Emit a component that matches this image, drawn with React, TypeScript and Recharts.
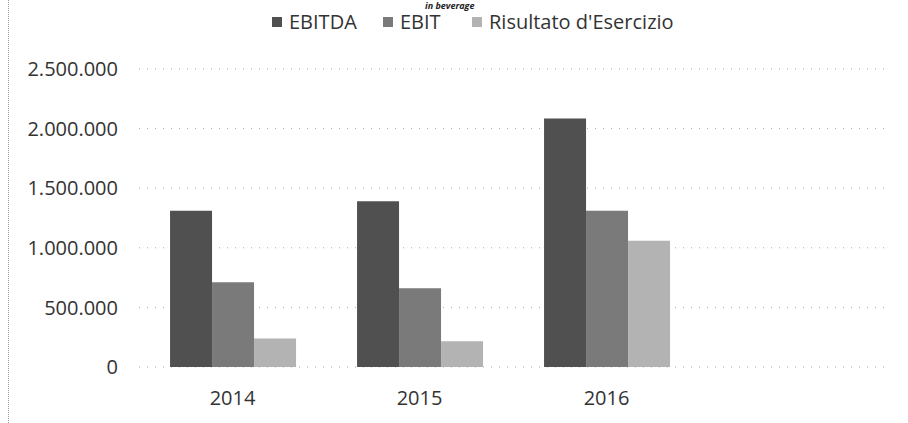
import { BarChart, Bar, XAxis, YAxis, CartesianGrid } from "recharts";

// anni (il quarto slot e' vuoto nel grafico originale)
const years = ["2014", "2015", "2016", ""];
const ebitda = [1310000, 1390000, 2085000, null];
const ebit = [710000, 660000, 1310000, null];
const risultato = [240000, 215000, 1060000, null];
const yTicks = [0, 500000, 1000000, 1500000, 2000000, 2500000];

const series = [
  { key: "ebitda", name: "EBITDA", color: "#505050", left: 272 },
  { key: "ebit", name: "EBIT", color: "#7a7a7a", left: 383 },
  { key: "risultato", name: "Risultato d'Esercizio", color: "#b3b3b3", left: 472 },
];

const data = years.map((year, i) => ({
  year,
  ebitda: ebitda[i],
  ebit: ebit[i],
  risultato: risultato[i],
}));

const fmt = (v: number) => String(v).replace(/\B(?=(\d{3})+(?!\d))/g, ".");

const FONT = "'Open Sans', 'Liberation Sans', sans-serif";

export default function App() {
  return (
    <div style={{ position: "fixed", left: 0, top: 0, width: 908, height: 423, background: "#fff", overflow: "hidden" }}>
      <div style={{ position: "absolute", left: 8, top: 0, height: 423, borderLeft: "1px dotted #999" }} />
      <div
        style={{
          position: "absolute",
          left: 425,
          top: 1,
          lineHeight: "10px",
          fontFamily: FONT,
          fontStyle: "italic",
          fontWeight: 700,
          fontSize: 9,
          color: "#222",
          whiteSpace: "nowrap",
        }}
      >
        in beverage
      </div>
      {/* legenda */}
      {series.map((s) => (
        <div
          key={s.key}
          style={{
            position: "absolute",
            left: s.left,
            top: 12,
            height: 20,
            lineHeight: "20px",
            display: "flex",
            alignItems: "center",
            gap: 7,
            fontFamily: FONT,
            fontSize: 20,
            color: "#333",
            whiteSpace: "nowrap",
          }}
        >
          <span style={{ width: 10, height: 10, background: s.color, display: "inline-block" }} />
          {s.name}
        </div>
      ))}
      <BarChart
        width={908}
        height={423}
        data={data}
        margin={{ top: 69, right: 21, bottom: 16, left: 0 }}
        barCategoryGap="16.6%"
        barGap={0}
      >
        <CartesianGrid vertical={false} stroke="#aaa" strokeDasharray="1 7" />
        <XAxis
          dataKey="year"
          axisLine={false}
          tickLine={false}
          height={40}
          tickMargin={18}
          tick={{ fontFamily: FONT, fontSize: 20, fill: "#333" }}
        />
        <YAxis
          width={139}
          domain={[0, 2500000]}
          ticks={yTicks}
          axisLine={false}
          tickLine={false}
          tickMargin={15}
          tickFormatter={fmt}
          tick={{ fontFamily: FONT, fontSize: 20, fill: "#333" }}
        />
        {series.map((s) => (
          <Bar key={s.key} dataKey={s.key} name={s.name} fill={s.color} isAnimationActive={false} />
        ))}
      </BarChart>
    </div>
  );
}
